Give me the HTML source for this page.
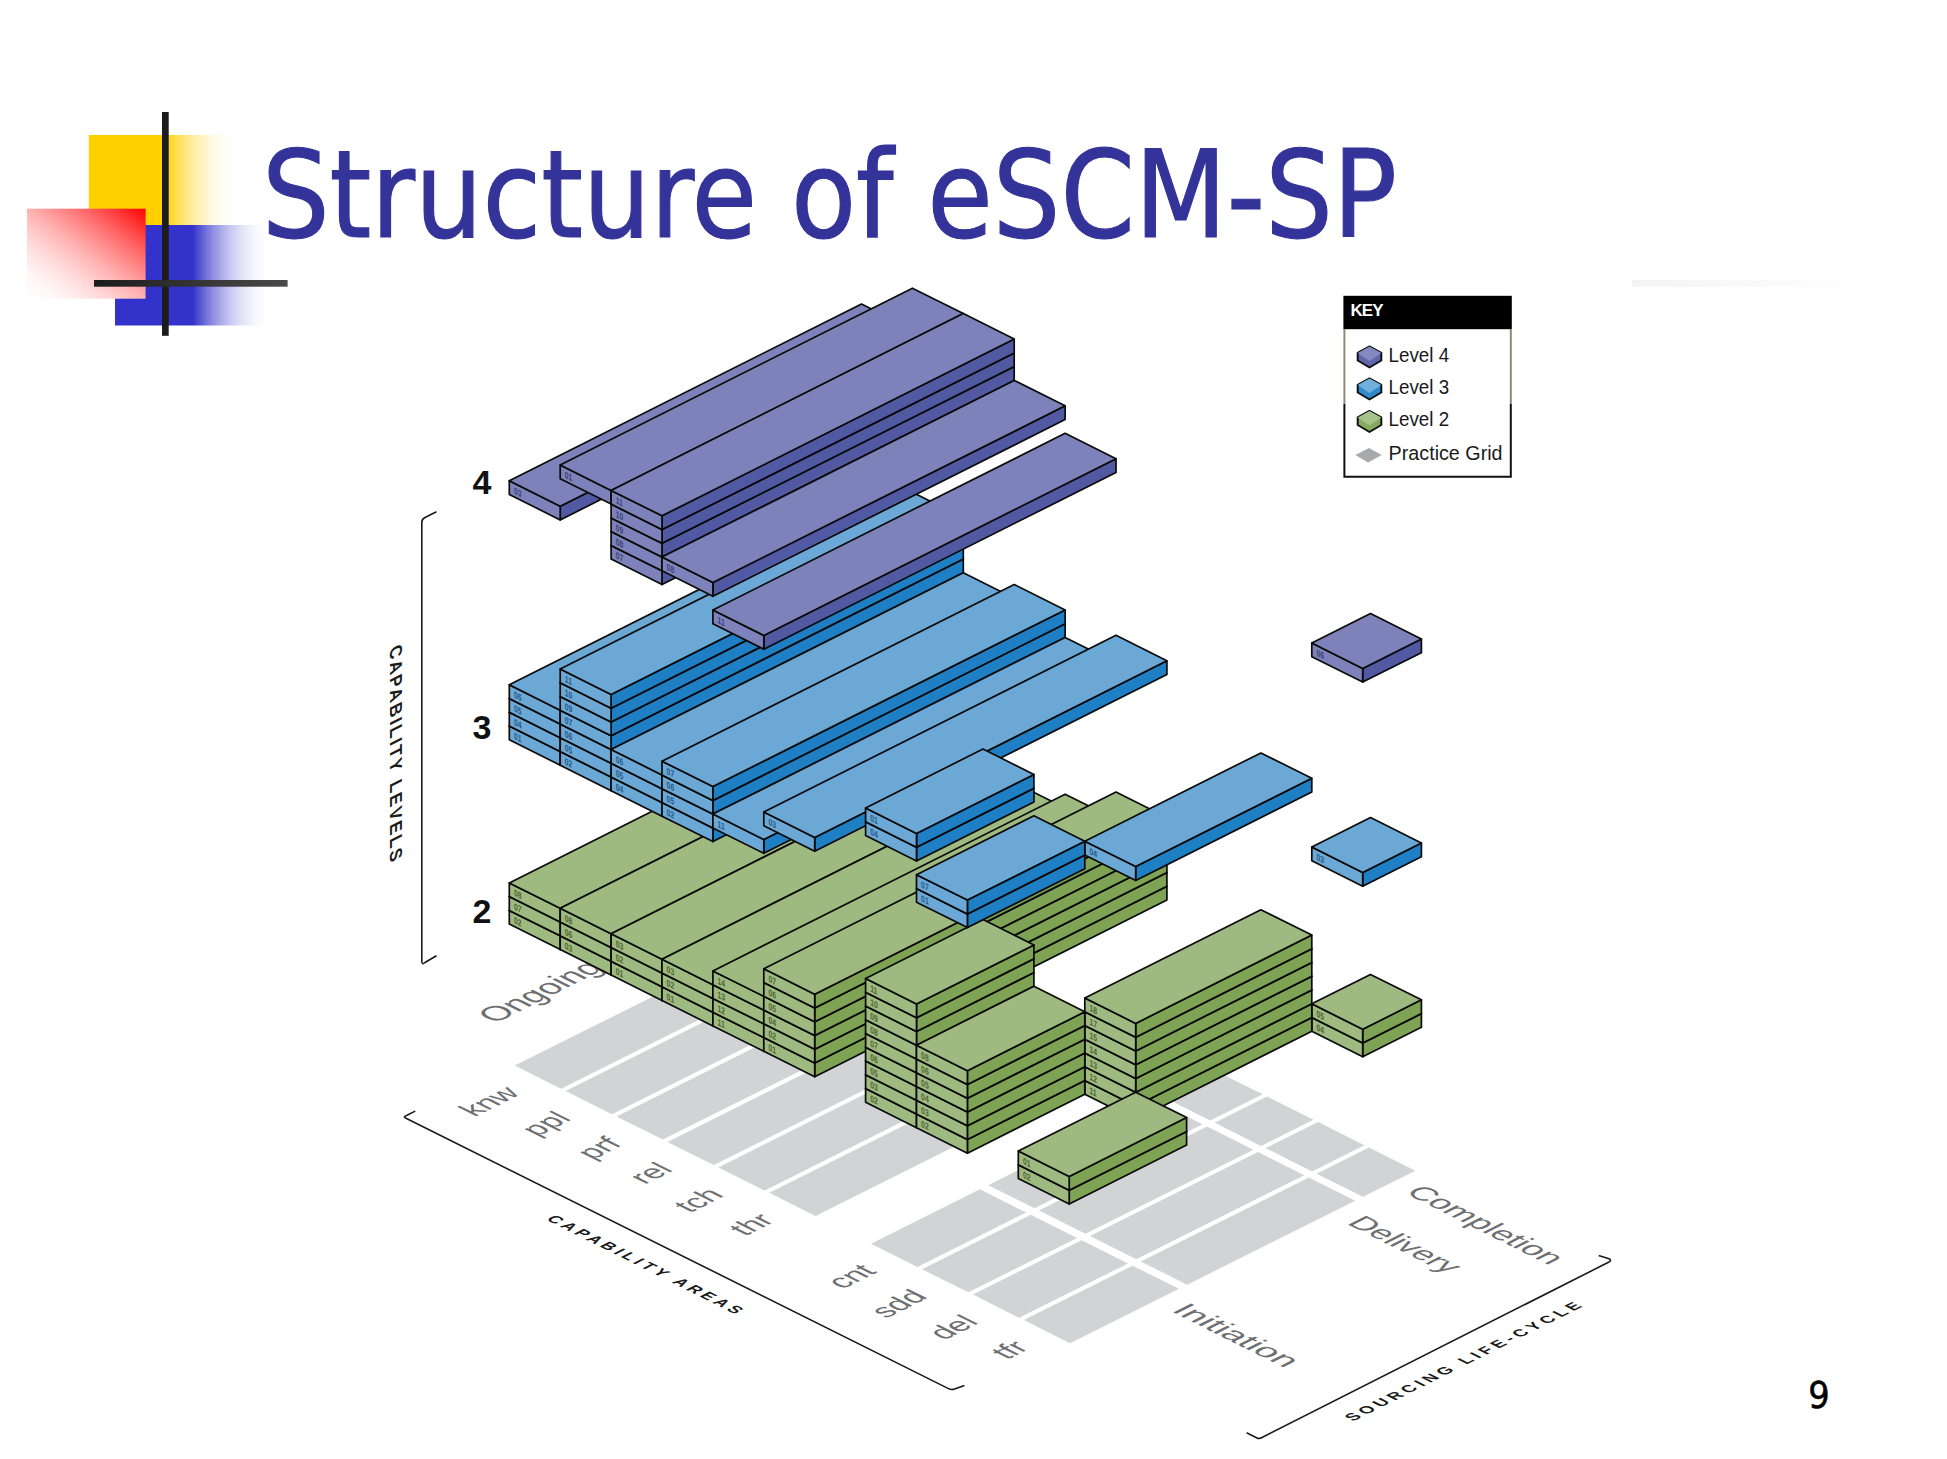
<!DOCTYPE html>
<html lang="en">
<head>
<meta charset="utf-8">
<title>Structure of eSCM-SP</title>
<style>
html,body{margin:0;padding:0;background:#fff;}
body{width:1947px;height:1459px;overflow:hidden;position:relative;font-family:"Liberation Sans",sans-serif;}
svg{position:absolute;left:0;top:0;display:block;}
.title{font-family:"DejaVu Sans Condensed","DejaVu Sans","Liberation Sans",sans-serif;font-stretch:condensed;font-size:121px;fill:#333399;stroke:#333399;stroke-width:1.1px;}
.bx polygon{stroke:#0a0a0a;stroke-width:1.7;stroke-linejoin:round;}
.bl{font-family:"Liberation Sans",sans-serif;font-size:8.5px;font-weight:bold;stroke:none;opacity:.72;}
.fl{font-family:"Liberation Sans",sans-serif;fill:#6e6f72;}
.ax{font-family:"Liberation Sans",sans-serif;font-weight:bold;fill:#1a1a1a;}
.floor polygon{fill:#d1d3d4;}
.num{font-family:"Liberation Sans",sans-serif;font-weight:bold;font-size:34px;fill:#111;}
.key{font-family:"Liberation Sans",sans-serif;font-size:20.5px;fill:#1a1a1a;}
</style>
</head>
<body>
<svg width="1947" height="1459" viewBox="0 0 1947 1459">
<defs>
<linearGradient id="gy" x1="0" y1="0" x2="1" y2="0"><stop offset="0" stop-color="#ffcf00"/><stop offset="0.500" stop-color="#ffcf00"/><stop offset="0.562" stop-color="#ffda3c"/><stop offset="0.625" stop-color="#ffe470"/><stop offset="0.688" stop-color="#ffec9b"/><stop offset="0.750" stop-color="#fff3bf"/><stop offset="0.812" stop-color="#fff8db"/><stop offset="0.875" stop-color="#fffcef"/><stop offset="0.938" stop-color="#fffefb"/><stop offset="1.000" stop-color="#ffffff"/></linearGradient>
<linearGradient id="gb" x1="0" y1="0" x2="1" y2="0"><stop offset="0" stop-color="#3333cc"/><stop offset="0.500" stop-color="#3333cc"/><stop offset="0.562" stop-color="#6363d8"/><stop offset="0.625" stop-color="#8c8ce2"/><stop offset="0.688" stop-color="#afafeb"/><stop offset="0.750" stop-color="#ccccf2"/><stop offset="0.812" stop-color="#e2e2f8"/><stop offset="0.875" stop-color="#f2f2fc"/><stop offset="0.938" stop-color="#fcfcfe"/><stop offset="1.000" stop-color="#ffffff"/></linearGradient>
<linearGradient id="gr" x1="1" y1="0" x2="0" y2="1"><stop offset="0" stop-color="#ff0000"/><stop offset="0.000" stop-color="#ff0000"/><stop offset="0.125" stop-color="#ff3434"/><stop offset="0.250" stop-color="#ff6363"/><stop offset="0.375" stop-color="#ff8c8c"/><stop offset="0.500" stop-color="#ffb1b1"/><stop offset="0.625" stop-color="#ffcfcf"/><stop offset="0.750" stop-color="#ffe7e7"/><stop offset="0.875" stop-color="#fff8f8"/><stop offset="1.000" stop-color="#ffffff"/></linearGradient>
<linearGradient id="gl" x1="0" y1="0" x2="1" y2="0"><stop offset="0" stop-color="#1c1c1c"/><stop offset="1" stop-color="#4a4a4a"/></linearGradient>
<linearGradient id="gt" x1="0" y1="0" x2="1" y2="0"><stop offset="0" stop-color="#f4f4f4"/><stop offset="1" stop-color="#fdfdfd"/></linearGradient>
<linearGradient id="gf" gradientUnits="userSpaceOnUse" x1="684.8" y1="980.6" x2="752.8" y2="844.6"><stop offset="0" stop-color="#d1d3d4"/><stop offset="1" stop-color="#ffffff"/></linearGradient>
</defs>
<rect x="0" y="0" width="1947" height="1459" fill="#ffffff"/>
<!-- slide decoration -->
<g id="deco">
<rect x="88.8" y="135" width="150" height="90.6" fill="url(#gy)"/>
<rect x="115" y="225" width="156" height="100.5" fill="url(#gb)"/>
<rect x="27" y="208.7" width="118.6" height="90" fill="url(#gr)"/>
<rect x="162" y="112" width="6.7" height="223.8" fill="#1c1c1c"/>
<rect x="94" y="280" width="193.6" height="6.7" fill="url(#gl)"/>
<rect x="1632" y="279.8" width="207" height="7" fill="url(#gt)"/>
</g>
<text class="title" x="262" y="237" textLength="1135" lengthAdjust="spacingAndGlyphs">Structure of eSCM-SP</text>
<text x="1808.2" y="1407.6" font-family="DejaVu Sans Condensed, DejaVu Sans, Liberation Sans, sans-serif" font-stretch="condensed" font-size="37.5" fill="#000" stroke="#000" stroke-width="0.5">9</text>

<!-- practice grid floor -->
<g class="floor">
<polygon points="871.1,1243.8 917.4,1266.9 1026.2,1212.5 979.9,1189.3"/>
<polygon points="988.2,1185.2 1034.5,1208.3 1202.5,1124.3 1156.2,1101.2"/>
<polygon points="1163.9,1097.3 1210.2,1120.5 1262.6,1094.3 1216.3,1071.2"/>
<polygon points="922.0,1269.2 968.3,1292.3 1077.1,1237.9 1030.8,1214.8"/>
<polygon points="1039.1,1210.6 1085.4,1233.8 1253.4,1149.8 1207.1,1126.6"/>
<polygon points="1214.8,1122.8 1261.1,1145.9 1313.5,1119.8 1267.2,1096.6"/>
<polygon points="972.9,1294.6 1019.2,1317.8 1128.0,1263.4 1081.7,1240.2"/>
<polygon points="1090.0,1236.1 1136.3,1259.2 1304.3,1175.2 1258.0,1152.1"/>
<polygon points="1265.7,1148.2 1312.0,1171.4 1364.4,1145.2 1318.1,1122.0"/>
<polygon points="1023.8,1320.1 1070.1,1343.2 1178.9,1288.8 1132.6,1265.7"/>
<polygon points="1140.9,1261.5 1187.2,1284.7 1355.2,1200.7 1308.9,1177.5"/>
<polygon points="1316.6,1173.7 1362.9,1196.8 1415.3,1170.7 1369.0,1147.5"/>
<polygon style="fill:url(#gf)" points="514.8,1065.6 561.1,1088.8 906.1,916.2 859.8,893.1"/><polygon style="fill:url(#gf)" points="565.7,1091.0 612.0,1114.2 957.0,941.7 910.7,918.5"/><polygon style="fill:url(#gf)" points="616.6,1116.5 662.9,1139.6 1007.9,967.1 961.6,944.0"/><polygon style="fill:url(#gf)" points="667.5,1141.9 713.8,1165.1 1058.8,992.6 1012.5,969.4"/><polygon style="fill:url(#gf)" points="718.4,1167.4 764.7,1190.5 1109.7,1018.0 1063.4,994.9"/><polygon style="fill:url(#gf)" points="769.3,1192.8 815.6,1216.0 1160.6,1043.5 1114.3,1020.3"/>
</g>
<g id="floorlabels">
<text class="fl" font-size="29.5" transform="matrix(0.8944,-0.4472,0.8944,0.4472,521.4,1093.9)" text-anchor="end">knw</text>
<text class="fl" font-size="29.5" transform="matrix(0.8944,-0.4472,0.8944,0.4472,572.3,1119.3)" text-anchor="end">ppl</text>
<text class="fl" font-size="29.5" transform="matrix(0.8944,-0.4472,0.8944,0.4472,623.2,1144.8)" text-anchor="end">prf</text>
<text class="fl" font-size="29.5" transform="matrix(0.8944,-0.4472,0.8944,0.4472,674.1,1170.2)" text-anchor="end">rel</text>
<text class="fl" font-size="29.5" transform="matrix(0.8944,-0.4472,0.8944,0.4472,725.0,1195.7)" text-anchor="end">tch</text>
<text class="fl" font-size="29.5" transform="matrix(0.8944,-0.4472,0.8944,0.4472,775.9,1221.1)" text-anchor="end">thr</text>
<text class="fl" font-size="29.5" transform="matrix(0.8944,-0.4472,0.8944,0.4472,877.7,1272.0)" text-anchor="end">cnt</text>
<text class="fl" font-size="29.5" transform="matrix(0.8944,-0.4472,0.8944,0.4472,928.6,1297.5)" text-anchor="end">sdd</text>
<text class="fl" font-size="29.5" transform="matrix(0.8944,-0.4472,0.8944,0.4472,979.5,1322.9)" text-anchor="end">del</text>
<text class="fl" font-size="29.5" transform="matrix(0.8944,-0.4472,0.8944,0.4472,1030.4,1348.4)" text-anchor="end">tfr</text>
<text class="fl" font-size="32.5" transform="matrix(0.8944,-0.4472,0.8944,0.4472,495.0,1023.8)" >Ongoing</text>
<text class="fl" font-size="29" transform="matrix(0.8944,0.4472,-0.8944,0.4472,1170.5,1311.0)" textLength="128" lengthAdjust="spacingAndGlyphs">Initiation</text>
<text class="fl" font-size="29" transform="matrix(0.8944,0.4472,-0.8944,0.4472,1346.0,1223.5)" textLength="113" lengthAdjust="spacingAndGlyphs">Delivery</text>
<text class="fl" font-size="29" transform="matrix(0.8944,0.4472,-0.8944,0.4472,1404.5,1193.0)" textLength="162" lengthAdjust="spacingAndGlyphs">Completion</text>
<text class="ax" font-size="16" transform="matrix(0.8944,0.4472,-0.8944,0.4472,545.5,1219.4)" textLength="212" lengthAdjust="spacing">CAPABILITY AREAS</text>
<text class="ax" font-size="16" transform="matrix(0.8944,-0.4472,0.8944,0.4472,1352.9,1421.5)" textLength="257" lengthAdjust="spacing">SOURCING LIFE-CYCLE</text>
</g>
<!-- brackets -->
<g fill="none" stroke="#1a1a1a" stroke-width="1.6" stroke-linecap="round" stroke-linejoin="round">
<path d="M436,512 L425,517.5 Q421.8,519 421.8,522.5 L421.8,961 Q421.8,965.5 425,962.5 L436,956"/>
<path d="M414.7,1111.4 L406.5,1115.5 Q402.5,1117 406,1118.2 L948.5,1388.6 Q951.5,1390.2 954.5,1389 L963.8,1385.7"/>
<path d="M1247.1,1433 L1256.5,1437.7 Q1259.3,1439.3 1262,1437.5 L1609,1262 Q1612,1260.3 1609,1258.8 L1599.4,1255.8"/>
</g>
<!-- vertical axis label -->
<text class="ax" font-size="17.3" transform="matrix(0,1,-1,0.5,389.7,648.5)" textLength="215" lengthAdjust="spacing">CAPABILITY LEVELS</text>
<text class="num" x="472.5" y="494.3">4</text>
<text class="num" x="472.5" y="739.3">3</text>
<text class="num" x="472.5" y="923.4">2</text>

<!-- practice blocks -->
<g class="bx">
<polygon points="560.2,935.8 912.4,759.1 912.4,772.9 560.2,949.6" fill="#7ea355"/><polygon points="509.3,910.4 560.2,935.8 560.2,949.6 509.3,924.1" fill="#9fba80"/><polygon points="509.3,910.4 560.2,935.8 912.4,759.1 861.5,733.7" fill="#9fba80"/><text class="bl" fill="#2c4314" transform="matrix(0.8,0.4,0,1.1,513.9,923.1)">02</text>
<polygon points="560.2,922.1 912.4,745.4 912.4,759.1 560.2,935.8" fill="#7ea355"/><polygon points="509.3,896.6 560.2,922.1 560.2,935.8 509.3,910.4" fill="#9fba80"/><polygon points="509.3,896.6 560.2,922.1 912.4,745.4 861.5,719.9" fill="#9fba80"/><text class="bl" fill="#2c4314" transform="matrix(0.8,0.4,0,1.1,513.9,909.4)">07</text>
<polygon points="560.2,908.3 912.4,731.6 912.4,745.4 560.2,922.1" fill="#7ea355"/><polygon points="509.3,882.9 560.2,908.3 560.2,922.1 509.3,896.6" fill="#9fba80"/><polygon points="509.3,882.9 560.2,908.3 912.4,731.6 861.5,706.2" fill="#9fba80"/><text class="bl" fill="#2c4314" transform="matrix(0.8,0.4,0,1.1,513.9,895.6)">08</text>
<polygon points="560.2,751.5 912.4,574.8 912.4,588.6 560.2,765.2" fill="#1f7fc4"/><polygon points="509.3,726.0 560.2,751.5 560.2,765.2 509.3,739.8" fill="#6ba8d6"/><polygon points="509.3,726.0 560.2,751.5 912.4,574.8 861.5,549.4" fill="#6ba8d6"/><text class="bl" fill="#0c3a66" transform="matrix(0.8,0.4,0,1.1,513.9,738.8)">01</text>
<polygon points="560.2,737.8 912.4,561.1 912.4,574.8 560.2,751.5" fill="#1f7fc4"/><polygon points="509.3,712.3 560.2,737.8 560.2,751.5 509.3,726.0" fill="#6ba8d6"/><polygon points="509.3,712.3 560.2,737.8 912.4,561.1 861.5,535.6" fill="#6ba8d6"/><text class="bl" fill="#0c3a66" transform="matrix(0.8,0.4,0,1.1,513.9,725.0)">04</text>
<polygon points="560.2,724.0 912.4,547.3 912.4,561.1 560.2,737.8" fill="#1f7fc4"/><polygon points="509.3,698.5 560.2,724.0 560.2,737.8 509.3,712.3" fill="#6ba8d6"/><polygon points="509.3,698.5 560.2,724.0 912.4,547.3 861.5,521.9" fill="#6ba8d6"/><text class="bl" fill="#0c3a66" transform="matrix(0.8,0.4,0,1.1,513.9,711.3)">05</text>
<polygon points="560.2,710.2 912.4,533.6 912.4,547.3 560.2,724.0" fill="#1f7fc4"/><polygon points="509.3,684.8 560.2,710.2 560.2,724.0 509.3,698.5" fill="#6ba8d6"/><polygon points="509.3,684.8 560.2,710.2 912.4,533.6 861.5,508.1" fill="#6ba8d6"/><text class="bl" fill="#0c3a66" transform="matrix(0.8,0.4,0,1.1,513.9,697.5)">06</text>
<polygon points="560.2,506.2 912.4,329.5 912.4,343.2 560.2,519.9" fill="#5259a3"/><polygon points="509.3,480.7 560.2,506.2 560.2,519.9 509.3,494.5" fill="#7d83ba"/><polygon points="509.3,480.7 560.2,506.2 912.4,329.5 861.5,304.0" fill="#7d83ba"/><text class="bl" fill="#23275a" transform="matrix(0.8,0.4,0,1.1,513.9,493.5)">03</text>
<polygon points="611.1,961.2 963.3,784.5 963.3,798.3 611.1,975.0" fill="#7ea355"/><polygon points="560.2,935.8 611.1,961.2 611.1,975.0 560.2,949.6" fill="#9fba80"/><polygon points="560.2,935.8 611.1,961.2 963.3,784.5 912.4,759.1" fill="#9fba80"/><text class="bl" fill="#2c4314" transform="matrix(0.8,0.4,0,1.1,564.8,948.6)">03</text>
<polygon points="611.1,947.5 963.3,770.8 963.3,784.5 611.1,961.2" fill="#7ea355"/><polygon points="560.2,922.1 611.1,947.5 611.1,961.2 560.2,935.8" fill="#9fba80"/><polygon points="560.2,922.1 611.1,947.5 963.3,770.8 912.4,745.4" fill="#9fba80"/><text class="bl" fill="#2c4314" transform="matrix(0.8,0.4,0,1.1,564.8,934.8)">06</text>
<polygon points="611.1,933.8 963.3,757.0 963.3,770.8 611.1,947.5" fill="#7ea355"/><polygon points="560.2,908.3 611.1,933.8 611.1,947.5 560.2,922.1" fill="#9fba80"/><polygon points="560.2,908.3 611.1,933.8 963.3,757.0 912.4,731.6" fill="#9fba80"/><text class="bl" fill="#2c4314" transform="matrix(0.8,0.4,0,1.1,564.8,921.1)">08</text>
<polygon points="611.1,777.0 963.3,600.2 963.3,614.0 611.1,790.7" fill="#1f7fc4"/><polygon points="560.2,751.5 611.1,777.0 611.1,790.7 560.2,765.2" fill="#6ba8d6"/><polygon points="560.2,751.5 611.1,777.0 963.3,600.2 912.4,574.8" fill="#6ba8d6"/><text class="bl" fill="#0c3a66" transform="matrix(0.8,0.4,0,1.1,564.8,764.2)">02</text>
<polygon points="611.1,763.2 963.3,586.5 963.3,600.2 611.1,777.0" fill="#1f7fc4"/><polygon points="560.2,737.8 611.1,763.2 611.1,777.0 560.2,751.5" fill="#6ba8d6"/><polygon points="560.2,737.8 611.1,763.2 963.3,586.5 912.4,561.1" fill="#6ba8d6"/><text class="bl" fill="#0c3a66" transform="matrix(0.8,0.4,0,1.1,564.8,750.5)">05</text>
<polygon points="611.1,749.5 963.3,572.8 963.3,586.5 611.1,763.2" fill="#1f7fc4"/><polygon points="560.2,724.0 611.1,749.5 611.1,763.2 560.2,737.8" fill="#6ba8d6"/><polygon points="560.2,724.0 611.1,749.5 963.3,572.8 912.4,547.3" fill="#6ba8d6"/><text class="bl" fill="#0c3a66" transform="matrix(0.8,0.4,0,1.1,564.8,736.8)">06</text>
<polygon points="611.1,735.7 963.3,559.0 963.3,572.8 611.1,749.5" fill="#1f7fc4"/><polygon points="560.2,710.2 611.1,735.7 611.1,749.5 560.2,724.0" fill="#6ba8d6"/><polygon points="560.2,710.2 611.1,735.7 963.3,559.0 912.4,533.6" fill="#6ba8d6"/><text class="bl" fill="#0c3a66" transform="matrix(0.8,0.4,0,1.1,564.8,723.0)">07</text>
<polygon points="611.1,722.0 963.3,545.2 963.3,559.0 611.1,735.7" fill="#1f7fc4"/><polygon points="560.2,696.5 611.1,722.0 611.1,735.7 560.2,710.2" fill="#6ba8d6"/><polygon points="560.2,696.5 611.1,722.0 963.3,545.2 912.4,519.8" fill="#6ba8d6"/><text class="bl" fill="#0c3a66" transform="matrix(0.8,0.4,0,1.1,564.8,709.2)">09</text>
<polygon points="611.1,708.2 963.3,531.5 963.3,545.2 611.1,722.0" fill="#1f7fc4"/><polygon points="560.2,682.8 611.1,708.2 611.1,722.0 560.2,696.5" fill="#6ba8d6"/><polygon points="560.2,682.8 611.1,708.2 963.3,531.5 912.4,506.1" fill="#6ba8d6"/><text class="bl" fill="#0c3a66" transform="matrix(0.8,0.4,0,1.1,564.8,695.5)">10</text>
<polygon points="611.1,694.5 963.3,517.8 963.3,531.5 611.1,708.2" fill="#1f7fc4"/><polygon points="560.2,669.0 611.1,694.5 611.1,708.2 560.2,682.8" fill="#6ba8d6"/><polygon points="560.2,669.0 611.1,694.5 963.3,517.8 912.4,492.3" fill="#6ba8d6"/><text class="bl" fill="#0c3a66" transform="matrix(0.8,0.4,0,1.1,564.8,681.8)">11</text>
<polygon points="611.1,490.4 963.3,313.6 963.3,327.4 611.1,504.1" fill="#5259a3"/><polygon points="560.2,464.9 611.1,490.4 611.1,504.1 560.2,478.7" fill="#7d83ba"/><polygon points="560.2,464.9 611.1,490.4 963.3,313.6 912.4,288.2" fill="#7d83ba"/><text class="bl" fill="#23275a" transform="matrix(0.8,0.4,0,1.1,564.8,477.7)">01</text>
<polygon points="662.0,986.7 1014.2,810.0 1014.2,823.8 662.0,1000.5" fill="#7ea355"/><polygon points="611.1,961.2 662.0,986.7 662.0,1000.5 611.1,975.0" fill="#9fba80"/><polygon points="611.1,961.2 662.0,986.7 1014.2,810.0 963.3,784.5" fill="#9fba80"/><text class="bl" fill="#2c4314" transform="matrix(0.8,0.4,0,1.1,615.7,974.0)">01</text>
<polygon points="662.0,973.0 1014.2,796.2 1014.2,810.0 662.0,986.7" fill="#7ea355"/><polygon points="611.1,947.5 662.0,973.0 662.0,986.7 611.1,961.2" fill="#9fba80"/><polygon points="611.1,947.5 662.0,973.0 1014.2,796.2 963.3,770.8" fill="#9fba80"/><text class="bl" fill="#2c4314" transform="matrix(0.8,0.4,0,1.1,615.7,960.2)">02</text>
<polygon points="662.0,959.2 1014.2,782.5 1014.2,796.2 662.0,973.0" fill="#7ea355"/><polygon points="611.1,933.8 662.0,959.2 662.0,973.0 611.1,947.5" fill="#9fba80"/><polygon points="611.1,933.8 662.0,959.2 1014.2,782.5 963.3,757.0" fill="#9fba80"/><text class="bl" fill="#2c4314" transform="matrix(0.8,0.4,0,1.1,615.7,946.5)">03</text>
<polygon points="662.0,802.4 1014.2,625.7 1014.2,639.5 662.0,816.2" fill="#1f7fc4"/><polygon points="611.1,777.0 662.0,802.4 662.0,816.2 611.1,790.7" fill="#6ba8d6"/><polygon points="611.1,777.0 662.0,802.4 1014.2,625.7 963.3,600.2" fill="#6ba8d6"/><text class="bl" fill="#0c3a66" transform="matrix(0.8,0.4,0,1.1,615.7,789.7)">04</text>
<polygon points="662.0,788.7 1014.2,612.0 1014.2,625.7 662.0,802.4" fill="#1f7fc4"/><polygon points="611.1,763.2 662.0,788.7 662.0,802.4 611.1,777.0" fill="#6ba8d6"/><polygon points="611.1,763.2 662.0,788.7 1014.2,612.0 963.3,586.5" fill="#6ba8d6"/><text class="bl" fill="#0c3a66" transform="matrix(0.8,0.4,0,1.1,615.7,776.0)">05</text>
<polygon points="662.0,774.9 1014.2,598.2 1014.2,612.0 662.0,788.7" fill="#1f7fc4"/><polygon points="611.1,749.5 662.0,774.9 662.0,788.7 611.1,763.2" fill="#6ba8d6"/><polygon points="611.1,749.5 662.0,774.9 1014.2,598.2 963.3,572.8" fill="#6ba8d6"/><text class="bl" fill="#0c3a66" transform="matrix(0.8,0.4,0,1.1,615.7,762.2)">06</text>
<polygon points="662.0,570.8 1014.2,394.1 1014.2,407.9 662.0,584.6" fill="#5259a3"/><polygon points="611.1,545.4 662.0,570.8 662.0,584.6 611.1,559.1" fill="#7d83ba"/><polygon points="611.1,545.4 662.0,570.8 1014.2,394.1 963.3,368.6" fill="#7d83ba"/><text class="bl" fill="#23275a" transform="matrix(0.8,0.4,0,1.1,615.7,558.1)">07</text>
<polygon points="662.0,557.1 1014.2,380.4 1014.2,394.1 662.0,570.8" fill="#5259a3"/><polygon points="611.1,531.6 662.0,557.1 662.0,570.8 611.1,545.4" fill="#7d83ba"/><polygon points="611.1,531.6 662.0,557.1 1014.2,380.4 963.3,354.9" fill="#7d83ba"/><text class="bl" fill="#23275a" transform="matrix(0.8,0.4,0,1.1,615.7,544.4)">08</text>
<polygon points="662.0,543.3 1014.2,366.6 1014.2,380.4 662.0,557.1" fill="#5259a3"/><polygon points="611.1,517.9 662.0,543.3 662.0,557.1 611.1,531.6" fill="#7d83ba"/><polygon points="611.1,517.9 662.0,543.3 1014.2,366.6 963.3,341.1" fill="#7d83ba"/><text class="bl" fill="#23275a" transform="matrix(0.8,0.4,0,1.1,615.7,530.6)">09</text>
<polygon points="662.0,529.6 1014.2,352.9 1014.2,366.6 662.0,543.3" fill="#5259a3"/><polygon points="611.1,504.1 662.0,529.6 662.0,543.3 611.1,517.9" fill="#7d83ba"/><polygon points="611.1,504.1 662.0,529.6 1014.2,352.9 963.3,327.4" fill="#7d83ba"/><text class="bl" fill="#23275a" transform="matrix(0.8,0.4,0,1.1,615.7,516.9)">10</text>
<polygon points="662.0,515.8 1014.2,339.1 1014.2,352.9 662.0,529.6" fill="#5259a3"/><polygon points="611.1,490.4 662.0,515.8 662.0,529.6 611.1,504.1" fill="#7d83ba"/><polygon points="611.1,490.4 662.0,515.8 1014.2,339.1 963.3,313.6" fill="#7d83ba"/><text class="bl" fill="#23275a" transform="matrix(0.8,0.4,0,1.1,615.7,503.1)">11</text>
<polygon points="712.9,1012.2 1065.1,835.5 1065.1,849.2 712.9,1025.9" fill="#7ea355"/><polygon points="662.0,986.7 712.9,1012.2 712.9,1025.9 662.0,1000.5" fill="#9fba80"/><polygon points="662.0,986.7 712.9,1012.2 1065.1,835.5 1014.2,810.0" fill="#9fba80"/><text class="bl" fill="#2c4314" transform="matrix(0.8,0.4,0,1.1,666.6,999.5)">01</text>
<polygon points="712.9,998.4 1065.1,821.7 1065.1,835.5 712.9,1012.2" fill="#7ea355"/><polygon points="662.0,973.0 712.9,998.4 712.9,1012.2 662.0,986.7" fill="#9fba80"/><polygon points="662.0,973.0 712.9,998.4 1065.1,821.7 1014.2,796.2" fill="#9fba80"/><text class="bl" fill="#2c4314" transform="matrix(0.8,0.4,0,1.1,666.6,985.7)">02</text>
<polygon points="712.9,984.7 1065.1,808.0 1065.1,821.7 712.9,998.4" fill="#7ea355"/><polygon points="662.0,959.2 712.9,984.7 712.9,998.4 662.0,973.0" fill="#9fba80"/><polygon points="662.0,959.2 712.9,984.7 1065.1,808.0 1014.2,782.5" fill="#9fba80"/><text class="bl" fill="#2c4314" transform="matrix(0.8,0.4,0,1.1,666.6,972.0)">03</text>
<polygon points="712.9,827.9 1065.1,651.2 1065.1,664.9 712.9,841.6" fill="#1f7fc4"/><polygon points="662.0,802.4 712.9,827.9 712.9,841.6 662.0,816.2" fill="#6ba8d6"/><polygon points="662.0,802.4 712.9,827.9 1065.1,651.2 1014.2,625.7" fill="#6ba8d6"/><text class="bl" fill="#0c3a66" transform="matrix(0.8,0.4,0,1.1,666.6,815.2)">02</text>
<polygon points="712.9,814.1 1065.1,637.4 1065.1,651.2 712.9,827.9" fill="#1f7fc4"/><polygon points="662.0,788.7 712.9,814.1 712.9,827.9 662.0,802.4" fill="#6ba8d6"/><polygon points="662.0,788.7 712.9,814.1 1065.1,637.4 1014.2,612.0" fill="#6ba8d6"/><text class="bl" fill="#0c3a66" transform="matrix(0.8,0.4,0,1.1,666.6,801.4)">05</text>
<polygon points="712.9,800.4 1065.1,623.7 1065.1,637.4 712.9,814.1" fill="#1f7fc4"/><polygon points="662.0,774.9 712.9,800.4 712.9,814.1 662.0,788.7" fill="#6ba8d6"/><polygon points="662.0,774.9 712.9,800.4 1065.1,623.7 1014.2,598.2" fill="#6ba8d6"/><text class="bl" fill="#0c3a66" transform="matrix(0.8,0.4,0,1.1,666.6,787.7)">06</text>
<polygon points="712.9,786.6 1065.1,609.9 1065.1,623.7 712.9,800.4" fill="#1f7fc4"/><polygon points="662.0,761.2 712.9,786.6 712.9,800.4 662.0,774.9" fill="#6ba8d6"/><polygon points="662.0,761.2 712.9,786.6 1065.1,609.9 1014.2,584.5" fill="#6ba8d6"/><text class="bl" fill="#0c3a66" transform="matrix(0.8,0.4,0,1.1,666.6,773.9)">07</text>
<polygon points="712.9,582.5 1065.1,405.8 1065.1,419.6 712.9,596.3" fill="#5259a3"/><polygon points="662.0,557.1 712.9,582.5 712.9,596.3 662.0,570.8" fill="#7d83ba"/><polygon points="662.0,557.1 712.9,582.5 1065.1,405.8 1014.2,380.4" fill="#7d83ba"/><text class="bl" fill="#23275a" transform="matrix(0.8,0.4,0,1.1,666.6,569.8)">08</text>
<polygon points="763.8,1037.6 1116.0,860.9 1116.0,874.6 763.8,1051.3" fill="#7ea355"/><polygon points="712.9,1012.2 763.8,1037.6 763.8,1051.3 712.9,1025.9" fill="#9fba80"/><polygon points="712.9,1012.2 763.8,1037.6 1116.0,860.9 1065.1,835.5" fill="#9fba80"/><text class="bl" fill="#2c4314" transform="matrix(0.8,0.4,0,1.1,717.5,1024.9)">11</text>
<polygon points="763.8,1023.8 1116.0,847.1 1116.0,860.9 763.8,1037.6" fill="#7ea355"/><polygon points="712.9,998.4 763.8,1023.8 763.8,1037.6 712.9,1012.2" fill="#9fba80"/><polygon points="712.9,998.4 763.8,1023.8 1116.0,847.1 1065.1,821.7" fill="#9fba80"/><text class="bl" fill="#2c4314" transform="matrix(0.8,0.4,0,1.1,717.5,1011.2)">12</text>
<polygon points="763.8,1010.1 1116.0,833.4 1116.0,847.1 763.8,1023.8" fill="#7ea355"/><polygon points="712.9,984.7 763.8,1010.1 763.8,1023.8 712.9,998.4" fill="#9fba80"/><polygon points="712.9,984.7 763.8,1010.1 1116.0,833.4 1065.1,808.0" fill="#9fba80"/><text class="bl" fill="#2c4314" transform="matrix(0.8,0.4,0,1.1,717.5,997.4)">13</text>
<polygon points="763.8,996.3 1116.0,819.6 1116.0,833.4 763.8,1010.1" fill="#7ea355"/><polygon points="712.9,970.9 763.8,996.3 763.8,1010.1 712.9,984.7" fill="#9fba80"/><polygon points="712.9,970.9 763.8,996.3 1116.0,819.6 1065.1,794.2" fill="#9fba80"/><text class="bl" fill="#2c4314" transform="matrix(0.8,0.4,0,1.1,717.5,983.7)">14</text>
<polygon points="763.8,839.5 1116.0,662.8 1116.0,676.6 763.8,853.3" fill="#1f7fc4"/><polygon points="712.9,814.1 763.8,839.5 763.8,853.3 712.9,827.9" fill="#6ba8d6"/><polygon points="712.9,814.1 763.8,839.5 1116.0,662.8 1065.1,637.4" fill="#6ba8d6"/><text class="bl" fill="#0c3a66" transform="matrix(0.8,0.4,0,1.1,717.5,826.9)">11</text>
<polygon points="763.8,635.4 1116.0,458.7 1116.0,472.5 763.8,649.2" fill="#5259a3"/><polygon points="712.9,610.0 763.8,635.4 763.8,649.2 712.9,623.8" fill="#7d83ba"/><polygon points="712.9,610.0 763.8,635.4 1116.0,458.7 1065.1,433.3" fill="#7d83ba"/><text class="bl" fill="#23275a" transform="matrix(0.8,0.4,0,1.1,717.5,622.8)">11</text>
<polygon points="814.7,1063.0 1166.9,886.3 1166.9,900.1 814.7,1076.8" fill="#7ea355"/><polygon points="763.8,1037.6 814.7,1063.0 814.7,1076.8 763.8,1051.3" fill="#9fba80"/><polygon points="763.8,1037.6 814.7,1063.0 1166.9,886.3 1116.0,860.9" fill="#9fba80"/><text class="bl" fill="#2c4314" transform="matrix(0.8,0.4,0,1.1,768.4,1050.3)">01</text>
<polygon points="1362.7,1043.0 1421.4,1013.6 1421.4,1027.3 1362.7,1056.8" fill="#7ea355"/><polygon points="1311.8,1017.6 1362.7,1043.0 1362.7,1056.8 1311.8,1031.3" fill="#9fba80"/><polygon points="1311.8,1017.6 1362.7,1043.0 1421.4,1013.6 1370.5,988.1" fill="#9fba80"/><text class="bl" fill="#2c4314" transform="matrix(0.8,0.4,0,1.1,1316.4,1030.3)">04</text>
<polygon points="1135.7,1105.9 1311.8,1017.6 1311.8,1031.3 1135.7,1119.7" fill="#7ea355"/><polygon points="1084.8,1080.5 1135.7,1105.9 1135.7,1119.7 1084.8,1094.2" fill="#9fba80"/><polygon points="1084.8,1080.5 1135.7,1105.9 1311.8,1017.6 1260.9,992.2" fill="#9fba80"/><text class="bl" fill="#2c4314" transform="matrix(0.8,0.4,0,1.1,1089.4,1093.2)">11</text>
<polygon points="814.7,1049.3 1166.9,872.6 1166.9,886.3 814.7,1063.0" fill="#7ea355"/><polygon points="763.8,1023.8 814.7,1049.3 814.7,1063.0 763.8,1037.6" fill="#9fba80"/><polygon points="763.8,1023.8 814.7,1049.3 1166.9,872.6 1116.0,847.1" fill="#9fba80"/><text class="bl" fill="#2c4314" transform="matrix(0.8,0.4,0,1.1,768.4,1036.6)">02</text>
<polygon points="1362.7,1029.3 1421.4,999.8 1421.4,1013.6 1362.7,1043.0" fill="#7ea355"/><polygon points="1311.8,1003.8 1362.7,1029.3 1362.7,1043.0 1311.8,1017.6" fill="#9fba80"/><polygon points="1311.8,1003.8 1362.7,1029.3 1421.4,999.8 1370.5,974.4" fill="#9fba80"/><text class="bl" fill="#2c4314" transform="matrix(0.8,0.4,0,1.1,1316.4,1016.6)">05</text>
<polygon points="1135.7,1092.2 1311.8,1003.8 1311.8,1017.6 1135.7,1105.9" fill="#7ea355"/><polygon points="1084.8,1066.8 1135.7,1092.2 1135.7,1105.9 1084.8,1080.5" fill="#9fba80"/><polygon points="1084.8,1066.8 1135.7,1092.2 1311.8,1003.8 1260.9,978.4" fill="#9fba80"/><text class="bl" fill="#2c4314" transform="matrix(0.8,0.4,0,1.1,1089.4,1079.5)">12</text>
<polygon points="814.7,1035.5 1166.9,858.8 1166.9,872.6 814.7,1049.3" fill="#7ea355"/><polygon points="763.8,1010.1 814.7,1035.5 814.7,1049.3 763.8,1023.8" fill="#9fba80"/><polygon points="763.8,1010.1 814.7,1035.5 1166.9,858.8 1116.0,833.4" fill="#9fba80"/><text class="bl" fill="#2c4314" transform="matrix(0.8,0.4,0,1.1,768.4,1022.8)">04</text>
<polygon points="1135.7,1078.4 1311.8,990.1 1311.8,1003.8 1135.7,1092.2" fill="#7ea355"/><polygon points="1084.8,1053.0 1135.7,1078.4 1135.7,1092.2 1084.8,1066.8" fill="#9fba80"/><polygon points="1084.8,1053.0 1135.7,1078.4 1311.8,990.1 1260.9,964.7" fill="#9fba80"/><text class="bl" fill="#2c4314" transform="matrix(0.8,0.4,0,1.1,1089.4,1065.8)">13</text>
<polygon points="814.7,1021.8 1166.9,845.1 1166.9,858.8 814.7,1035.5" fill="#7ea355"/><polygon points="763.8,996.3 814.7,1021.8 814.7,1035.5 763.8,1010.1" fill="#9fba80"/><polygon points="763.8,996.3 814.7,1021.8 1166.9,845.1 1116.0,819.6" fill="#9fba80"/><text class="bl" fill="#2c4314" transform="matrix(0.8,0.4,0,1.1,768.4,1009.1)">05</text>
<polygon points="1135.7,1064.7 1311.8,976.3 1311.8,990.1 1135.7,1078.4" fill="#7ea355"/><polygon points="1084.8,1039.2 1135.7,1064.7 1135.7,1078.4 1084.8,1053.0" fill="#9fba80"/><polygon points="1084.8,1039.2 1135.7,1064.7 1311.8,976.3 1260.9,950.9" fill="#9fba80"/><text class="bl" fill="#2c4314" transform="matrix(0.8,0.4,0,1.1,1089.4,1052.0)">14</text>
<polygon points="814.7,1008.0 1166.9,831.3 1166.9,845.1 814.7,1021.8" fill="#7ea355"/><polygon points="763.8,982.6 814.7,1008.0 814.7,1021.8 763.8,996.3" fill="#9fba80"/><polygon points="763.8,982.6 814.7,1008.0 1166.9,831.3 1116.0,805.9" fill="#9fba80"/><text class="bl" fill="#2c4314" transform="matrix(0.8,0.4,0,1.1,768.4,995.3)">06</text>
<polygon points="1135.7,1050.9 1311.8,962.6 1311.8,976.3 1135.7,1064.7" fill="#7ea355"/><polygon points="1084.8,1025.5 1135.7,1050.9 1135.7,1064.7 1084.8,1039.2" fill="#9fba80"/><polygon points="1084.8,1025.5 1135.7,1050.9 1311.8,962.6 1260.9,937.2" fill="#9fba80"/><text class="bl" fill="#2c4314" transform="matrix(0.8,0.4,0,1.1,1089.4,1038.2)">15</text>
<polygon points="814.7,994.3 1166.9,817.6 1166.9,831.3 814.7,1008.0" fill="#7ea355"/><polygon points="763.8,968.8 814.7,994.3 814.7,1008.0 763.8,982.6" fill="#9fba80"/><polygon points="763.8,968.8 814.7,994.3 1166.9,817.6 1116.0,792.1" fill="#9fba80"/><text class="bl" fill="#2c4314" transform="matrix(0.8,0.4,0,1.1,768.4,981.6)">07</text>
<polygon points="1362.7,872.5 1421.4,843.0 1421.4,856.8 1362.7,886.2" fill="#1f7fc4"/><polygon points="1311.8,847.0 1362.7,872.5 1362.7,886.2 1311.8,860.8" fill="#6ba8d6"/><polygon points="1311.8,847.0 1362.7,872.5 1421.4,843.0 1370.5,817.6" fill="#6ba8d6"/><text class="bl" fill="#0c3a66" transform="matrix(0.8,0.4,0,1.1,1316.4,859.8)">03</text>
<polygon points="1135.7,1037.2 1311.8,948.8 1311.8,962.6 1135.7,1050.9" fill="#7ea355"/><polygon points="1084.8,1011.8 1135.7,1037.2 1135.7,1050.9 1084.8,1025.5" fill="#9fba80"/><polygon points="1084.8,1011.8 1135.7,1037.2 1311.8,948.8 1260.9,923.4" fill="#9fba80"/><text class="bl" fill="#2c4314" transform="matrix(0.8,0.4,0,1.1,1089.4,1024.5)">17</text>
<polygon points="1135.7,1023.4 1311.8,935.1 1311.8,948.8 1135.7,1037.2" fill="#7ea355"/><polygon points="1084.8,998.0 1135.7,1023.4 1135.7,1037.2 1084.8,1011.8" fill="#9fba80"/><polygon points="1084.8,998.0 1135.7,1023.4 1311.8,935.1 1260.9,909.7" fill="#9fba80"/><text class="bl" fill="#2c4314" transform="matrix(0.8,0.4,0,1.1,1089.4,1010.8)">18</text>
<polygon points="814.7,837.5 1166.9,660.8 1166.9,674.5 814.7,851.2" fill="#1f7fc4"/><polygon points="763.8,812.0 814.7,837.5 814.7,851.2 763.8,825.8" fill="#6ba8d6"/><polygon points="763.8,812.0 814.7,837.5 1166.9,660.8 1116.0,635.3" fill="#6ba8d6"/><text class="bl" fill="#0c3a66" transform="matrix(0.8,0.4,0,1.1,768.4,824.8)">03</text>
<polygon points="1362.7,668.4 1421.4,638.9 1421.4,652.7 1362.7,682.1" fill="#5259a3"/><polygon points="1311.8,642.9 1362.7,668.4 1362.7,682.1 1311.8,656.7" fill="#7d83ba"/><polygon points="1311.8,642.9 1362.7,668.4 1421.4,638.9 1370.5,613.5" fill="#7d83ba"/><text class="bl" fill="#23275a" transform="matrix(0.8,0.4,0,1.1,1316.4,655.7)">06</text>
<polygon points="1135.7,866.6 1311.8,778.3 1311.8,792.0 1135.7,880.4" fill="#1f7fc4"/><polygon points="1084.8,841.2 1135.7,866.6 1135.7,880.4 1084.8,855.0" fill="#6ba8d6"/><polygon points="1084.8,841.2 1135.7,866.6 1311.8,778.3 1260.9,752.9" fill="#6ba8d6"/><text class="bl" fill="#0c3a66" transform="matrix(0.8,0.4,0,1.1,1089.4,854.0)">04</text>
<polygon points="916.5,1114.0 1033.9,1055.0 1033.9,1068.8 916.5,1127.7" fill="#7ea355"/><polygon points="865.6,1088.5 916.5,1114.0 916.5,1127.7 865.6,1102.2" fill="#9fba80"/><polygon points="865.6,1088.5 916.5,1114.0 1033.9,1055.0 983.0,1029.6" fill="#9fba80"/><text class="bl" fill="#2c4314" transform="matrix(0.8,0.4,0,1.1,870.2,1101.2)">02</text>
<polygon points="916.5,1100.2 1033.9,1041.3 1033.9,1055.0 916.5,1114.0" fill="#7ea355"/><polygon points="865.6,1074.8 916.5,1100.2 916.5,1114.0 865.6,1088.5" fill="#9fba80"/><polygon points="865.6,1074.8 916.5,1100.2 1033.9,1041.3 983.0,1015.8" fill="#9fba80"/><text class="bl" fill="#2c4314" transform="matrix(0.8,0.4,0,1.1,870.2,1087.5)">03</text>
<polygon points="916.5,1086.5 1033.9,1027.5 1033.9,1041.3 916.5,1100.2" fill="#7ea355"/><polygon points="865.6,1061.0 916.5,1086.5 916.5,1100.2 865.6,1074.8" fill="#9fba80"/><polygon points="865.6,1061.0 916.5,1086.5 1033.9,1027.5 983.0,1002.1" fill="#9fba80"/><text class="bl" fill="#2c4314" transform="matrix(0.8,0.4,0,1.1,870.2,1073.8)">05</text>
<polygon points="916.5,1072.7 1033.9,1013.8 1033.9,1027.5 916.5,1086.5" fill="#7ea355"/><polygon points="865.6,1047.2 916.5,1072.7 916.5,1086.5 865.6,1061.0" fill="#9fba80"/><polygon points="865.6,1047.2 916.5,1072.7 1033.9,1013.8 983.0,988.3" fill="#9fba80"/><text class="bl" fill="#2c4314" transform="matrix(0.8,0.4,0,1.1,870.2,1060.0)">06</text>
<polygon points="916.5,1059.0 1033.9,1000.0 1033.9,1013.8 916.5,1072.7" fill="#7ea355"/><polygon points="865.6,1033.5 916.5,1059.0 916.5,1072.7 865.6,1047.2" fill="#9fba80"/><polygon points="865.6,1033.5 916.5,1059.0 1033.9,1000.0 983.0,974.6" fill="#9fba80"/><text class="bl" fill="#2c4314" transform="matrix(0.8,0.4,0,1.1,870.2,1046.2)">07</text>
<polygon points="916.5,1045.2 1033.9,986.3 1033.9,1000.0 916.5,1059.0" fill="#7ea355"/><polygon points="865.6,1019.8 916.5,1045.2 916.5,1059.0 865.6,1033.5" fill="#9fba80"/><polygon points="865.6,1019.8 916.5,1045.2 1033.9,986.3 983.0,960.8" fill="#9fba80"/><text class="bl" fill="#2c4314" transform="matrix(0.8,0.4,0,1.1,870.2,1032.5)">08</text>
<polygon points="916.5,1031.5 1033.9,972.5 1033.9,986.3 916.5,1045.2" fill="#7ea355"/><polygon points="865.6,1006.0 916.5,1031.5 916.5,1045.2 865.6,1019.8" fill="#9fba80"/><polygon points="865.6,1006.0 916.5,1031.5 1033.9,972.5 983.0,947.1" fill="#9fba80"/><text class="bl" fill="#2c4314" transform="matrix(0.8,0.4,0,1.1,870.2,1018.8)">09</text>
<polygon points="916.5,1017.7 1033.9,958.8 1033.9,972.5 916.5,1031.5" fill="#7ea355"/><polygon points="865.6,992.2 916.5,1017.7 916.5,1031.5 865.6,1006.0" fill="#9fba80"/><polygon points="865.6,992.2 916.5,1017.7 1033.9,958.8 983.0,933.3" fill="#9fba80"/><text class="bl" fill="#2c4314" transform="matrix(0.8,0.4,0,1.1,870.2,1005.0)">10</text>
<polygon points="916.5,1004.0 1033.9,945.0 1033.9,958.8 916.5,1017.7" fill="#7ea355"/><polygon points="865.6,978.5 916.5,1004.0 916.5,1017.7 865.6,992.2" fill="#9fba80"/><polygon points="865.6,978.5 916.5,1004.0 1033.9,945.0 983.0,919.6" fill="#9fba80"/><text class="bl" fill="#2c4314" transform="matrix(0.8,0.4,0,1.1,870.2,991.2)">11</text>
<polygon points="916.5,847.2 1033.9,788.2 1033.9,802.0 916.5,860.9" fill="#1f7fc4"/><polygon points="865.6,821.7 916.5,847.2 916.5,860.9 865.6,835.5" fill="#6ba8d6"/><polygon points="865.6,821.7 916.5,847.2 1033.9,788.2 983.0,762.8" fill="#6ba8d6"/><text class="bl" fill="#0c3a66" transform="matrix(0.8,0.4,0,1.1,870.2,834.5)">04</text>
<polygon points="916.5,833.4 1033.9,774.5 1033.9,788.2 916.5,847.2" fill="#1f7fc4"/><polygon points="865.6,808.0 916.5,833.4 916.5,847.2 865.6,821.7" fill="#6ba8d6"/><polygon points="865.6,808.0 916.5,833.4 1033.9,774.5 983.0,749.0" fill="#6ba8d6"/><text class="bl" fill="#0c3a66" transform="matrix(0.8,0.4,0,1.1,870.2,820.7)">01</text>
<polygon points="967.4,1139.4 1084.8,1080.5 1084.8,1094.2 967.4,1153.2" fill="#7ea355"/><polygon points="916.5,1114.0 967.4,1139.4 967.4,1153.2 916.5,1127.7" fill="#9fba80"/><polygon points="916.5,1114.0 967.4,1139.4 1084.8,1080.5 1033.9,1055.0" fill="#9fba80"/><text class="bl" fill="#2c4314" transform="matrix(0.8,0.4,0,1.1,921.1,1126.7)">02</text>
<polygon points="967.4,1125.7 1084.8,1066.8 1084.8,1080.5 967.4,1139.4" fill="#7ea355"/><polygon points="916.5,1100.2 967.4,1125.7 967.4,1139.4 916.5,1114.0" fill="#9fba80"/><polygon points="916.5,1100.2 967.4,1125.7 1084.8,1066.8 1033.9,1041.3" fill="#9fba80"/><text class="bl" fill="#2c4314" transform="matrix(0.8,0.4,0,1.1,921.1,1113.0)">03</text>
<polygon points="967.4,1111.9 1084.8,1053.0 1084.8,1066.8 967.4,1125.7" fill="#7ea355"/><polygon points="916.5,1086.5 967.4,1111.9 967.4,1125.7 916.5,1100.2" fill="#9fba80"/><polygon points="916.5,1086.5 967.4,1111.9 1084.8,1053.0 1033.9,1027.5" fill="#9fba80"/><text class="bl" fill="#2c4314" transform="matrix(0.8,0.4,0,1.1,921.1,1099.2)">04</text>
<polygon points="967.4,1098.2 1084.8,1039.2 1084.8,1053.0 967.4,1111.9" fill="#7ea355"/><polygon points="916.5,1072.7 967.4,1098.2 967.4,1111.9 916.5,1086.5" fill="#9fba80"/><polygon points="916.5,1072.7 967.4,1098.2 1084.8,1039.2 1033.9,1013.8" fill="#9fba80"/><text class="bl" fill="#2c4314" transform="matrix(0.8,0.4,0,1.1,921.1,1085.5)">05</text>
<polygon points="967.4,1084.4 1084.8,1025.5 1084.8,1039.2 967.4,1098.2" fill="#7ea355"/><polygon points="916.5,1059.0 967.4,1084.4 967.4,1098.2 916.5,1072.7" fill="#9fba80"/><polygon points="916.5,1059.0 967.4,1084.4 1084.8,1025.5 1033.9,1000.0" fill="#9fba80"/><text class="bl" fill="#2c4314" transform="matrix(0.8,0.4,0,1.1,921.1,1071.7)">06</text>
<polygon points="967.4,1070.7 1084.8,1011.8 1084.8,1025.5 967.4,1084.4" fill="#7ea355"/><polygon points="916.5,1045.2 967.4,1070.7 967.4,1084.4 916.5,1059.0" fill="#9fba80"/><polygon points="916.5,1045.2 967.4,1070.7 1084.8,1011.8 1033.9,986.3" fill="#9fba80"/><text class="bl" fill="#2c4314" transform="matrix(0.8,0.4,0,1.1,921.1,1058.0)">08</text>
<polygon points="967.4,913.9 1084.8,855.0 1084.8,868.7 967.4,927.6" fill="#1f7fc4"/><polygon points="916.5,888.4 967.4,913.9 967.4,927.6 916.5,902.2" fill="#6ba8d6"/><polygon points="916.5,888.4 967.4,913.9 1084.8,855.0 1033.9,829.5" fill="#6ba8d6"/><text class="bl" fill="#0c3a66" transform="matrix(0.8,0.4,0,1.1,921.1,901.2)">01</text>
<polygon points="967.4,900.1 1084.8,841.2 1084.8,855.0 967.4,913.9" fill="#1f7fc4"/><polygon points="916.5,874.7 967.4,900.1 967.4,913.9 916.5,888.4" fill="#6ba8d6"/><polygon points="916.5,874.7 967.4,900.1 1084.8,841.2 1033.9,815.8" fill="#6ba8d6"/><text class="bl" fill="#0c3a66" transform="matrix(0.8,0.4,0,1.1,921.1,887.4)">07</text>
<polygon points="1069.2,1190.3 1186.6,1131.4 1186.6,1145.1 1069.2,1204.0" fill="#7ea355"/><polygon points="1018.3,1164.8 1069.2,1190.3 1069.2,1204.0 1018.3,1178.6" fill="#9fba80"/><polygon points="1018.3,1164.8 1069.2,1190.3 1186.6,1131.4 1135.7,1105.9" fill="#9fba80"/><text class="bl" fill="#2c4314" transform="matrix(0.8,0.4,0,1.1,1022.9,1177.6)">02</text>
<polygon points="1069.2,1176.5 1186.6,1117.6 1186.6,1131.4 1069.2,1190.3" fill="#7ea355"/><polygon points="1018.3,1151.1 1069.2,1176.5 1069.2,1190.3 1018.3,1164.8" fill="#9fba80"/><polygon points="1018.3,1151.1 1069.2,1176.5 1186.6,1117.6 1135.7,1092.2" fill="#9fba80"/><text class="bl" fill="#2c4314" transform="matrix(0.8,0.4,0,1.1,1022.9,1163.8)">01</text>
</g>

<!-- key -->
<g id="key">
<rect x="1344.4" y="296.8" width="166.4" height="180" fill="#ffffff"/>
<rect x="1343.4" y="295.8" width="168.4" height="33.4" fill="#000000"/>
<path d="M1344.4,329 L1344.4,404" stroke="#8b8b76" stroke-width="2" fill="none"/>
<path d="M1510.8,329 L1510.8,404" stroke="#8b8b76" stroke-width="2" fill="none"/>
<path d="M1344.4,404 L1344.4,476.8 L1510.8,476.8 L1510.8,404" stroke="#111" stroke-width="2" fill="none"/>
<text x="1350.5" y="316.3" font-family="Liberation Sans, sans-serif" font-weight="bold" font-size="17" fill="#fff" textLength="33" lengthAdjust="spacing">KEY</text>
<g stroke="#111" stroke-width="2" stroke-linejoin="round">
<path d="M1369.5,346.5 L1381.3,353.0 L1381.3,360.5 L1369.5,367.5 L1357.7,360.5 L1357.7,353.0 Z" fill="#5f66ad"/><path d="M1369.5,346.5 L1381.3,353.0 L1369.5,361.0 L1357.7,353.0 Z" fill="#8489bf" stroke="none"/>
<path d="M1369.5,378.5 L1381.3,385.0 L1381.3,392.5 L1369.5,399.5 L1357.7,392.5 L1357.7,385.0 Z" fill="#2f8acb"/><path d="M1369.5,378.5 L1381.3,385.0 L1369.5,393.0 L1357.7,385.0 Z" fill="#6fb0dc" stroke="none"/>
<path d="M1369.5,411.0 L1381.3,417.5 L1381.3,425.0 L1369.5,432.0 L1357.7,425.0 L1357.7,417.5 Z" fill="#86ab60"/><path d="M1369.5,411.0 L1381.3,417.5 L1369.5,425.5 L1357.7,417.5 Z" fill="#a6c189" stroke="none"/>
</g>
<path d="M1355.4,455 L1369,448 L1381.8,455 L1368,462.5 Z" fill="#a7a9ac"/>
<text class="key" x="1388.6" y="362.2" textLength="60.5" lengthAdjust="spacingAndGlyphs">Level 4</text>
<text class="key" x="1388.6" y="393.8" textLength="60.5" lengthAdjust="spacingAndGlyphs">Level 3</text>
<text class="key" x="1388.6" y="426" textLength="60.5" lengthAdjust="spacingAndGlyphs">Level 2</text>
<text class="key" x="1388.6" y="459.7" textLength="114" lengthAdjust="spacingAndGlyphs">Practice Grid</text>
</g>
</svg>
</body>
</html>
